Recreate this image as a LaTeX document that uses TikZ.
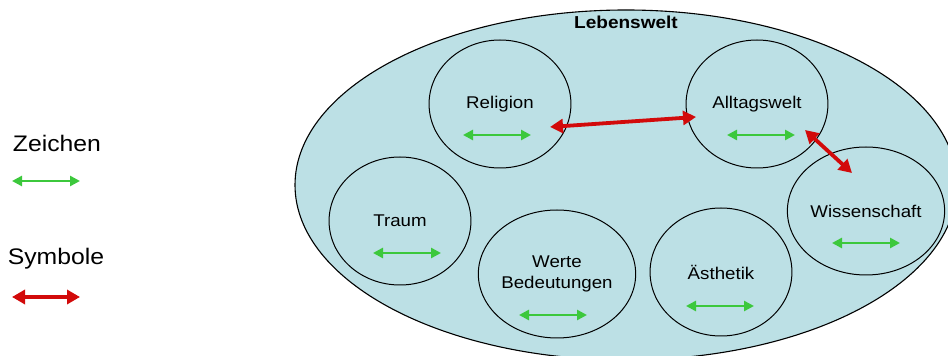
\documentclass[tikz,border=0pt]{standalone}
\usepackage{fontspec}
\setmainfont{Liberation Sans}
\usetikzlibrary{arrows.meta,calc,positioning,shapes.geometric}
\definecolor{lwblue}{RGB}{188,224,229}
\definecolor{zgreen}{RGB}{60,200,60}
\definecolor{sred}{RGB}{210,10,10}
\tikzset{
  welt/.style  = {ellipse, draw, line width=1pt, xscale=1.1, minimum width=129pt,
                  minimum height=128pt, inner sep=0pt, align=center,
                  font=\fontsize{17}{21}\selectfont},
  zei/.style   = {{Triangle[length=10pt,width=10pt]}-{Triangle[length=10pt,width=10pt]},
                  line width=2.8pt, zgreen},
  sym/.style   = {{Triangle[length=13pt,width=14pt]}-{Triangle[length=13pt,width=14pt]},
                  line width=3.8pt, sred},
  legtext/.style = {xscale=1.1, font=\fontsize{22.5}{24}\selectfont},
}
\begin{document}
\begin{tikzpicture}[x=1pt,y=1pt]
  \useasboundingbox (0,0) rectangle (948,356);
  % Lebenswelt
  \node[ellipse, draw, line width=1.1pt, fill=lwblue, minimum width=662pt, minimum height=350pt]
      (lw) at (626,171) {};
  \node[xscale=1.1, font=\bfseries\fontsize{17.3}{18}\selectfont] (lwtitle) at (626,334) {Lebenswelt};
  % Welten
  \node[welt] (rel) at (500,252) {Religion};
  \node[welt] (all) at (757,252) {Alltagswelt};
  \node[welt] (tra) at (400,135) {Traum};
  \node[welt] (wer) at (557,82)  {Werte\\Bedeutungen};
  \node[welt] (aes) at (721,84)  {Ästhetik};
  \node[welt] (wis) at (866,145) {Wissenschaft};
  % Zeichen in each world
  \foreach \n/\dx/\dy in {rel/-3/-31, all/4/-31, tra/7/-32, wer/-4/-41, aes/-1/-34, wis/0/-32}
     {\draw[zei] ($(\n)+(\dx-34,\dy)$) -- ($(\n)+(\dx+34,\dy)$);}
  % Symbole between worlds
  \draw[sym] ($(rel)+(50,-23)$) -- ($(all)+(-61,-13)$);
  \draw[sym] ($(all)+(48,-26)$) -- ($(wis)+(-14,38)$);
  % legend
  \node[legtext] (zeichen) at (57,213) {Zeichen};
  \coordinate (z1) at (12,175);
  \coordinate (z2) at (80,175);
  \draw[zei] (z1) -- (z2);
  \node[legtext] (symbole) at (56,97) {Symbole};
  \coordinate (s1) at (12,59);
  \coordinate (s2) at (80,59);
  \draw[sym] (s1) -- (s2);
\end{tikzpicture}
\end{document}
